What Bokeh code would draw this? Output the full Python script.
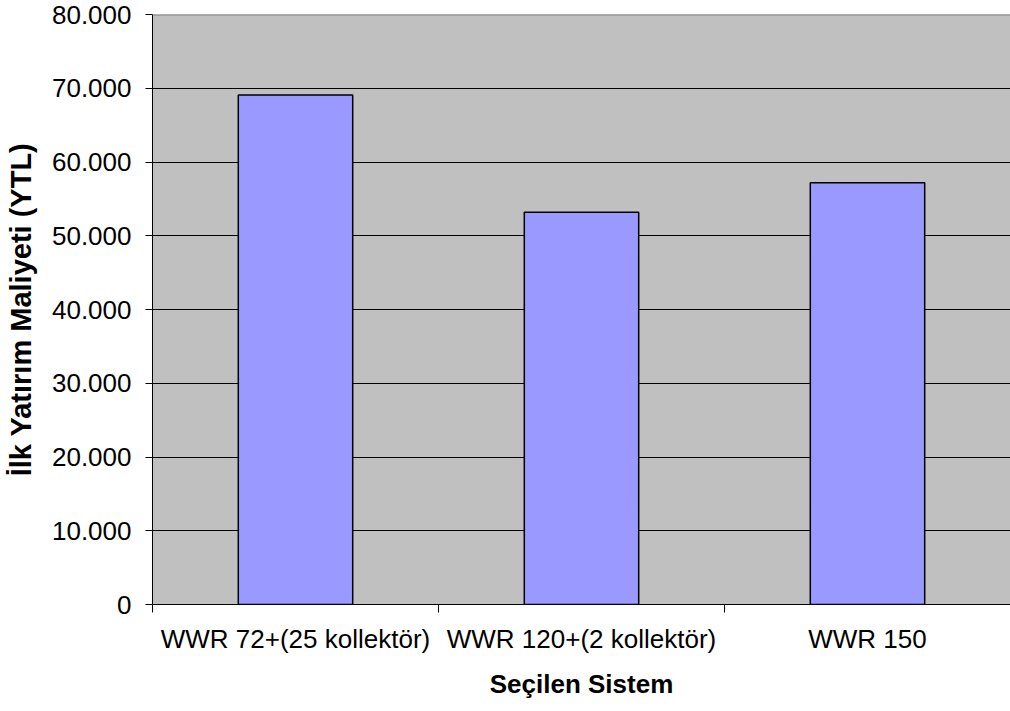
from bokeh.plotting import figure
from bokeh.models import ColumnDataSource, FixedTicker, Range1d, Span
from bokeh.embed import file_html
from bokeh.resources import INLINE

# Initial investment cost per selected system
systems = ["WWR 72+(25 kollektör)", "WWR 120+(2 kollektör)", "WWR 150"]
costs = [69100, 53200, 57200]
y_ticks = [0, 10000, 20000, 30000, 40000, 50000, 60000, 70000, 80000]
y_tick_labels = ["0", "10.000", "20.000", "30.000", "40.000", "50.000",
                 "60.000", "70.000", "80.000"]

FONT = "Liberation Sans"
centers = [i + 0.5 for i in range(len(systems))]
bounds = list(range(len(systems) + 1))

src = ColumnDataSource(dict(x=centers, top=costs))

p = figure(
    frame_width=858, frame_height=590,
    min_border_left=152, min_border_right=0,
    min_border_top=14, min_border_bottom=107,
    x_range=Range1d(0, len(systems)), y_range=Range1d(0, 80000),
    output_backend="svg", toolbar_location=None,
)
p.background_fill_color = "#C0C0C0"
p.border_fill_color = "white"
p.outline_line_color = None

p.vbar(x="x", top="top", width=0.4, source=src,
       fill_color="#9999FF", line_color="black", line_width=1.5)

# horizontal gridlines
p.xgrid.visible = False
p.ygrid.ticker = FixedTicker(ticks=y_ticks[1:-1])
p.ygrid.grid_line_color = "black"
p.ygrid.grid_line_width = 1
p.ygrid.level = "underlay"

p.add_layout(Span(location=80000, dimension="width",
                  line_color="#808080", line_width=2))

# y axis
ya = p.yaxis[0]
ya.ticker = FixedTicker(ticks=y_ticks)
ya.major_label_overrides = {t: s for t, s in zip(y_ticks, y_tick_labels)}
ya.major_tick_out = 7
ya.major_tick_in = 0
ya.minor_tick_out = 0
ya.minor_tick_in = 0
ya.major_label_standoff = 14
ya.major_label_text_font = FONT
ya.major_label_text_font_size = "26px"
ya.major_label_text_color = "black"
ya.axis_line_color = "black"
ya.major_tick_line_color = "black"
ya.axis_label = "İlk Yatırım Maliyeti (YTL)"
ya.axis_label_text_font = FONT
ya.axis_label_text_font_style = "bold"
ya.axis_label_text_font_size = "29px"
ya.axis_label_text_color = "black"
ya.axis_label_standoff = 12

# x axis: labels under bar centers, tick marks at category boundaries
xa = p.xaxis[0]
xa.ticker = FixedTicker(ticks=centers, minor_ticks=bounds)
xa.major_label_overrides = {c: s for c, s in zip(centers, systems)}
xa.major_tick_out = 0
xa.major_tick_in = 0
xa.minor_tick_out = 8
xa.minor_tick_in = 0
xa.minor_tick_line_color = "black"
xa.major_label_standoff = 11
xa.major_label_text_font = FONT
xa.major_label_text_font_size = "26px"
xa.major_label_text_color = "black"
xa.axis_line_color = "black"
xa.axis_label = "Seçilen Sistem"
xa.axis_label_text_font = FONT
xa.axis_label_text_font_style = "bold"
xa.axis_label_text_font_size = "26px"
xa.axis_label_text_color = "black"
xa.axis_label_standoff = 12

open("out.html", "w").write(file_html(p, INLINE))
